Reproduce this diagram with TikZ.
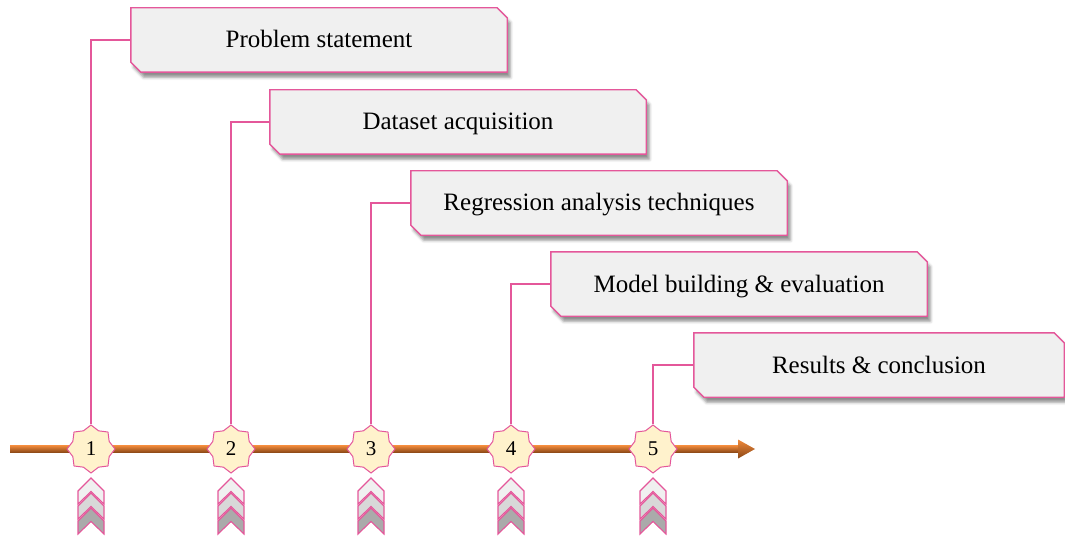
\documentclass[tikz,border=0pt]{standalone}
\usepackage{fontspec}
\setmainfont{Liberation Serif}
\usetikzlibrary{shapes.geometric,shadows.blur,backgrounds}
\definecolor{pinkline}{HTML}{E4579A}
\definecolor{boxfill}{HTML}{F0F0F0}
\definecolor{starfill}{HTML}{FFF2CC}
\definecolor{arrowtop}{HTML}{F08A3C}
\definecolor{arrowbot}{HTML}{8A4716}
\definecolor{chevA}{HTML}{F0F0F0}
\definecolor{chevB}{HTML}{D8D8D8}
\definecolor{chevC}{HTML}{AAAAAA}
\begin{document}
\begin{tikzpicture}[x=1pt,y=-1pt,
  boxtext/.style={minimum width=376pt, minimum height=64pt, inner sep=0pt, text height=18pt, text depth=2pt, font=\fontsize{25}{28}\selectfont},
  boxframe/.style={draw=pinkline, line width=1.4pt, fill=boxfill, blur shadow={shadow xshift=3pt, shadow yshift=-5pt, shadow blur radius=3pt, shadow opacity=45}},
  starnode/.style={star, star points=8, star point ratio=1.22, minimum size=48pt, inner sep=0pt, draw=pinkline, line width=1pt, fill=starfill, font=\fontsize{21}{22}\selectfont},
  conn/.style={draw=pinkline, line width=1.2pt},
  chev/.style={draw=pinkline, line width=1.1pt}]
\useasboundingbox (0,0) rectangle (1065,540);

% boxes
\node[boxtext] (b1) at (319,40) {Problem statement};
\node[boxtext] (b2) at (458,122) {Dataset acquisition};
\node[boxtext] (b3) at (599,203) {Regression analysis techniques};
\node[boxtext] (b4) at (739,284) {Model building \& evaluation};
\node[boxtext, minimum width=370pt] (b5) at (879,365) {Results \& conclusion};

\begin{pgfonlayer}{background}
\foreach \b in {b1,b2,b3,b4,b5}{
  \path[boxframe] (\b.north west) -- ([xshift=-10pt]\b.north east) -- ([yshift=-10pt]\b.north east)
    -- (\b.south east) -- ([xshift=10pt]\b.south west) -- ([yshift=10pt]\b.south west) -- cycle;
}
\end{pgfonlayer}

% timeline arrow
\coordinate (tls) at (10,449);
\coordinate (tle) at (755,449);
\shade[top color=arrowtop, bottom color=arrowbot] ([yshift=3.5pt]tls) rectangle ([xshift=-17pt,yshift=-3.5pt]tle);
\shade[top color=arrowtop, bottom color=arrowbot] (tle) -- ([xshift=-17pt,yshift=9.5pt]tle) -- ([xshift=-17pt,yshift=-9.5pt]tle) -- cycle;

% stars and connectors
\foreach \i/\x in {1/91,2/231,3/371,4/511,5/653}{
  \node[starnode] (s\i) at (\x,449) {\i};
  \draw[conn] (s\i.north) |- (b\i.west);
}

% chevrons
\foreach \x in {91,231,371,511,653}{
  \foreach \a/\c in {478/chevA,493/chevB,508/chevC}{
    \filldraw[chev, fill=\c] (\x,\a) -- (\x+13,\a+13) -- (\x+13,\a+26) -- (\x,\a+13.5) -- (\x-13,\a+26) -- (\x-13,\a+13) -- cycle;
  }
}
\end{tikzpicture}
\end{document}
